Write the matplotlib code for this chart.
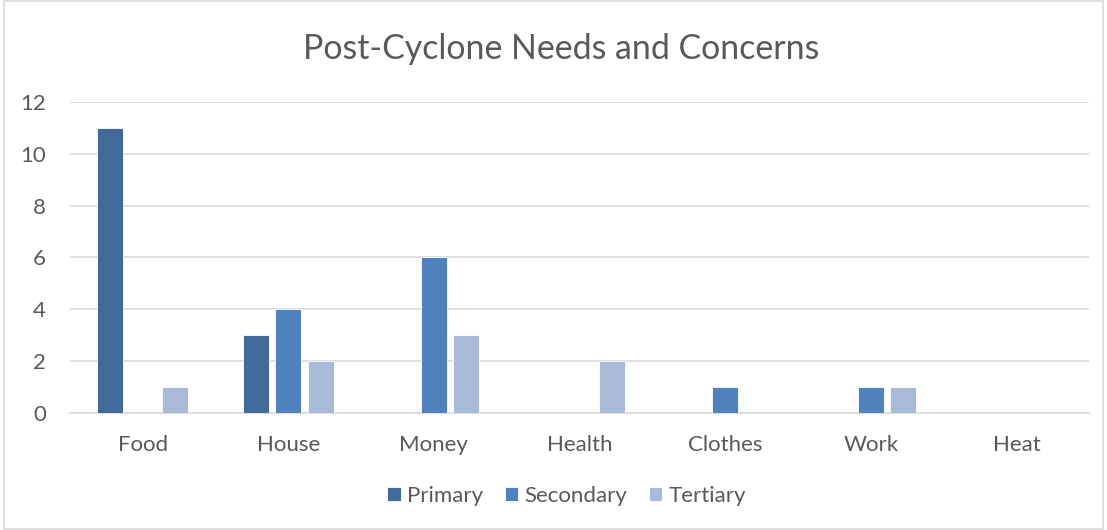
import numpy as np
import matplotlib.pyplot as plt

categories = ["Food", "House", "Money", "Health", "Clothes", "Work", "Heat"]
primary = [11, 3, 0, 0, 0, 0, 0]
secondary = [0, 4, 6, 0, 1, 1, 0]
tertiary = [1, 2, 3, 2, 0, 1, 0]

series = [("Primary", primary, "#41699a"),
          ("Secondary", secondary, "#4f81bd"),
          ("Tertiary", tertiary, "#a9b9d8")]

plt.rcParams['font.family'] = ['Lato', 'DejaVu Sans']
txt = "#595959"

fig = plt.figure(figsize=(11.07, 5.30), dpi=100)
ax = fig.add_axes([0.063, 0.221, 0.921, 0.5865])

x = np.arange(len(categories))
step = 0.223
width = 0.178
for i, (name, vals, col) in enumerate(series):
    ax.bar(x + (i - 1) * step, vals, width, color=col, label=name,
           edgecolor="white", linewidth=0.6, zorder=3)

ax.set_xlim(-0.5, len(categories) - 0.5)
ax.set_ylim(0, 12)
ax.set_yticks(range(0, 13, 2))
ax.set_xticks(x)
ax.set_xticklabels(categories)
ax.grid(axis="y", color="#d9d9d9", linewidth=1.2, zorder=0)
for s in ["top", "right", "left"]:
    ax.spines[s].set_visible(False)
ax.spines["bottom"].set_color("#d9d9d9")
ax.spines["bottom"].set_linewidth(1.2)
ax.tick_params(length=0, colors=txt, labelsize=16)
ax.tick_params(axis="x", pad=16)
ax.tick_params(axis="y", pad=17)

fig.text(0.507, 0.908, "Post-Cyclone Needs and Concerns", ha="center", va="center",
         fontsize=24.4, color=txt)

leg = fig.legend(loc="center", bbox_to_anchor=(0.512, 0.064), ncol=3, frameon=False,
                 fontsize=16, handlelength=0.6, handleheight=0.6, columnspacing=0.95,
                 handletextpad=0.3)
for t in leg.get_texts():
    t.set_color(txt)

fig.patches.append(plt.Rectangle((0.004, 0.002), 0.992, 0.996, transform=fig.transFigure,
                                 fill=False, edgecolor="#d9d9d9", linewidth=1.2))

fig.savefig("out.png", dpi=100)
